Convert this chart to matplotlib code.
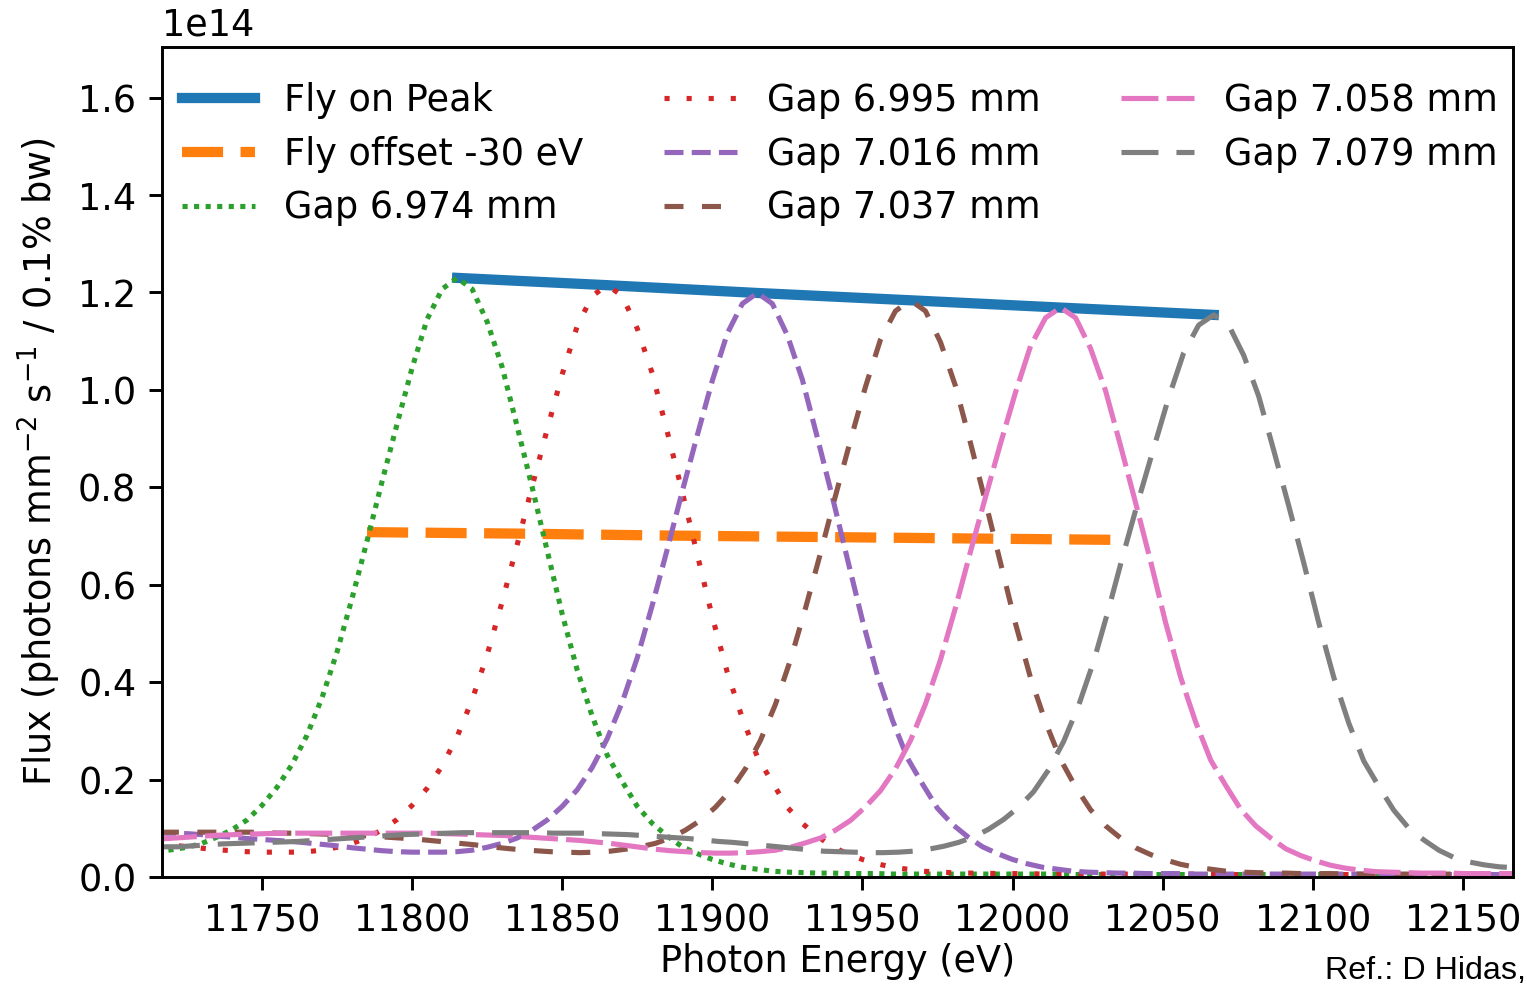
import matplotlib
matplotlib.use("Agg")
import matplotlib.pyplot as plt
import numpy as np

# figure is 1527 x 987 px; the original was a 10 pt matplotlib plot blown up
DPI = 264
W, H = 1527, 987

# ---------------------------------------------------------------
# data (flux in units of 1e14)
# ---------------------------------------------------------------
fly_peak_energy = [11815, 11865, 11915, 11966, 12016, 12067]
fly_peak_flux = [1.230, 1.215, 1.199, 1.184, 1.169, 1.154]

fly_offset_energy = [11785, 11835, 11885, 11936, 11986, 12037]
fly_offset_flux = [0.708, 0.705, 0.701, 0.698, 0.695, 0.692]

gap_labels = ["Gap 6.974 mm", "Gap 6.995 mm", "Gap 7.016 mm",
              "Gap 7.037 mm", "Gap 7.058 mm", "Gap 7.079 mm"]

# energy sampling of each gap scan (5 eV steps)
energy_6974 = np.arange(11715, 12175, 5)
energy_6995 = np.arange(11715, 12175, 5)
energy_7016 = np.arange(11715, 12175, 5)
energy_7037 = np.arange(11716, 12176, 5)
energy_7058 = np.arange(11716, 12176, 5)
energy_7079 = np.arange(11717, 12177, 5)

flux_6974 = [
    0.052, 0.056, 0.061, 0.069, 0.082, 0.097, 0.117, 0.147,
    0.184, 0.231, 0.291, 0.368, 0.462, 0.572, 0.690, 0.812, 0.930, 1.045,
    1.145, 1.207, 1.230, 1.207, 1.140, 1.047, 0.925, 0.800, 0.670, 0.540,
    0.425, 0.330, 0.250, 0.196, 0.145,
    0.110, 0.084, 0.062, 0.048, 0.036, 0.027, 0.020, 0.016, 0.012, 0.010,
    0.009, 0.008, 0.008, 0.007, 0.007, 0.007, 0.006, 0.006,
    0.006, 0.006, 0.006, 0.006, 0.006, 0.006, 0.006, 0.006, 0.006, 0.006,
    0.005, 0.005, 0.005, 0.005, 0.005, 0.005, 0.005, 0.005, 0.005, 0.005,
    0.005, 0.005, 0.005, 0.005, 0.005, 0.005, 0.005, 0.005, 0.005, 0.005,
    0.004, 0.004, 0.004, 0.004, 0.004, 0.004, 0.004, 0.004, 0.004, 0.004,
    0.004,
]

flux_6995 = [
    0.070, 0.066, 0.062, 0.059, 0.056, 0.054, 0.052, 0.051, 0.051, 0.051,
    0.052, 0.055, 0.061, 0.069, 0.080, 0.097, 0.118, 0.147,
    0.182, 0.228, 0.288, 0.364, 0.456, 0.565, 0.682, 0.802, 0.919, 1.032,
    1.131, 1.193, 1.215, 1.193, 1.126, 1.034, 0.914, 0.790, 0.662, 0.534,
    0.420, 0.326, 0.247, 0.194, 0.143,
    0.110, 0.084, 0.062, 0.048, 0.036, 0.027, 0.020, 0.016, 0.012, 0.010,
    0.009, 0.008, 0.008, 0.007, 0.007, 0.007, 0.006, 0.006,
    0.006, 0.006, 0.006, 0.006, 0.006, 0.006, 0.006, 0.006, 0.006, 0.006,
    0.005, 0.005, 0.005, 0.005, 0.005, 0.005, 0.005, 0.005, 0.005, 0.005,
    0.005, 0.005, 0.005, 0.005, 0.005, 0.005, 0.005, 0.005, 0.005, 0.005,
    0.004,
]

flux_7016 = [
    0.090, 0.090, 0.089, 0.087, 0.084, 0.082, 0.079, 0.077, 0.075, 0.073,
    0.070, 0.067, 0.064, 0.060, 0.057, 0.054, 0.052, 0.051, 0.051, 0.051,
    0.052, 0.055, 0.061, 0.069, 0.080, 0.096, 0.117, 0.145,
    0.179, 0.225, 0.284, 0.359, 0.450, 0.558, 0.673, 0.792, 0.907, 1.019,
    1.116, 1.177, 1.199, 1.177, 1.112, 1.021, 0.902, 0.780, 0.653, 0.527,
    0.414, 0.322, 0.244, 0.191, 0.141,
    0.108, 0.083, 0.062, 0.048, 0.036, 0.027, 0.020, 0.016, 0.012, 0.010,
    0.009, 0.008, 0.008, 0.007, 0.007, 0.007, 0.006, 0.006,
    0.006, 0.006, 0.006, 0.006, 0.006, 0.006, 0.006, 0.006, 0.006, 0.006,
    0.005, 0.005, 0.005, 0.005, 0.005, 0.005, 0.005, 0.005, 0.005, 0.005,
    0.005,
]

flux_7037 = [
    0.092, 0.092, 0.092, 0.092, 0.092, 0.092, 0.092, 0.091, 0.090, 0.090,
    0.089, 0.088, 0.087, 0.086, 0.084, 0.082, 0.080, 0.078, 0.075, 0.072,
    0.069, 0.066, 0.062, 0.059, 0.056, 0.054, 0.052, 0.051, 0.050, 0.051,
    0.053, 0.057, 0.062, 0.069, 0.080, 0.096, 0.116, 0.143,
    0.177, 0.222, 0.280, 0.354, 0.445, 0.551, 0.664, 0.782, 0.896, 1.006,
    1.103, 1.162, 1.184, 1.162, 1.098, 1.008, 0.891, 0.770, 0.645, 0.520,
    0.409, 0.318, 0.241, 0.185, 0.138,
    0.105, 0.080, 0.060, 0.046, 0.035, 0.026, 0.020, 0.016, 0.012, 0.010,
    0.009, 0.008, 0.008, 0.007, 0.007, 0.007, 0.006, 0.006,
    0.006, 0.006, 0.006, 0.006, 0.006, 0.006, 0.006, 0.006, 0.006, 0.006,
    0.005,
]

flux_7058 = [
    0.078, 0.080, 0.082, 0.084, 0.086, 0.087, 0.088, 0.089, 0.090, 0.090,
    0.090, 0.090, 0.090, 0.090, 0.090, 0.090, 0.090, 0.090, 0.090, 0.089,
    0.088, 0.087, 0.086, 0.085, 0.083, 0.081, 0.079, 0.077, 0.075, 0.072,
    0.069, 0.065, 0.061, 0.057, 0.054, 0.052, 0.050, 0.049, 0.049, 0.050,
    0.052, 0.055, 0.061, 0.070, 0.080, 0.096, 0.116, 0.144,
    0.177, 0.222, 0.280, 0.355, 0.446, 0.553, 0.668, 0.780, 0.890, 0.995,
    1.090, 1.148, 1.169, 1.148, 1.085, 0.998, 0.885, 0.768, 0.648, 0.522,
    0.410, 0.318, 0.240, 0.188, 0.139,
    0.105, 0.080, 0.058, 0.044, 0.033, 0.024, 0.018, 0.014, 0.011, 0.010,
    0.009, 0.008, 0.008, 0.008, 0.007, 0.007, 0.007, 0.007,
    0.007,
]

flux_7079 = [
    0.062, 0.062, 0.064, 0.066, 0.068, 0.069, 0.070, 0.071, 0.072, 0.073,
    0.075, 0.077, 0.079, 0.081, 0.083, 0.085, 0.087, 0.088, 0.089, 0.090,
    0.091, 0.091, 0.091, 0.091, 0.091, 0.091, 0.090, 0.090, 0.090, 0.089,
    0.088, 0.087, 0.085, 0.083, 0.081, 0.079, 0.076, 0.073, 0.071, 0.068,
    0.065, 0.062, 0.059, 0.056, 0.053, 0.052, 0.051, 0.050, 0.050, 0.051,
    0.053, 0.057, 0.063, 0.071, 0.082, 0.098, 0.118, 0.143,
    0.175, 0.220, 0.278, 0.352, 0.442, 0.550, 0.665, 0.775, 0.880, 0.984,
    1.076, 1.133, 1.154, 1.133, 1.071, 0.987, 0.876, 0.762, 0.645, 0.522,
    0.410, 0.316, 0.238, 0.186, 0.137,
    0.100, 0.076, 0.055, 0.040, 0.031, 0.025, 0.021, 0.019, 0.017,
]

gap_energies = [energy_6974, energy_6995, energy_7016,
                energy_7037, energy_7058, energy_7079]
gap_fluxes = [flux_6974, flux_6995, flux_7016, flux_7037, flux_7058, flux_7079]

# style of each gap curve: colour, dash pattern (in units of line width)
gap_colors = ["C2", "C3", "C4", "C5", "C6", "C7"]
gap_dashes = [(1, 1.25), (1, 3.3), (3.7, 1.6), (3.7, 3.6), (7.2, 1.6), (7.2, 3.5)]

SCALE = 1e14

#######################
fig = plt.figure(figsize=(W / DPI, H / DPI), dpi=DPI)
ax = fig.add_axes([162 / W, 110 / H, 1351 / W, 830 / H])

ax.plot(fly_peak_energy, np.array(fly_peak_flux) * SCALE, color="C0", lw=2.8,
        label="Fly on Peak")
ax.plot(fly_offset_energy, np.array(fly_offset_flux) * SCALE, color="C1", lw=2.8,
        dashes=(4.0, 1.7), label="Fly offset -30 eV")

for energy, flux, label, color, dashes in zip(gap_energies, gap_fluxes, gap_labels,
                                              gap_colors, gap_dashes):
    ax.plot(energy, np.array(flux) * SCALE, color=color, lw=1.4, dashes=dashes,
            label=label)

ax.set_xlim(11716.7, 12166.7)
ax.set_ylim(0, 1.704 * SCALE)

# label pulled up a little so it is not clipped by the bottom edge
ax.set_xlabel("Photon Energy (eV)", labelpad=1)
ax.set_ylabel(r"Flux (photons mm$^{-2}$ s$^{-1}$ / 0.1% bw)")

# legend sits close to the left spine, no frame
ax.legend(ncol=3, loc="upper left", frameon=False, borderaxespad=0,
          bbox_to_anchor=(5 / 1351, 1 - 20 / 830), columnspacing=2.2,
          labelspacing=0.46)

fig.text(1526 / W, 1 - 971 / H, "Ref.: D Hidas,", ha="right", va="center",
         fontsize=8.8, family=["Liberation Sans Narrow", "Liberation Sans"])

fig.savefig("out.png", dpi=DPI)
